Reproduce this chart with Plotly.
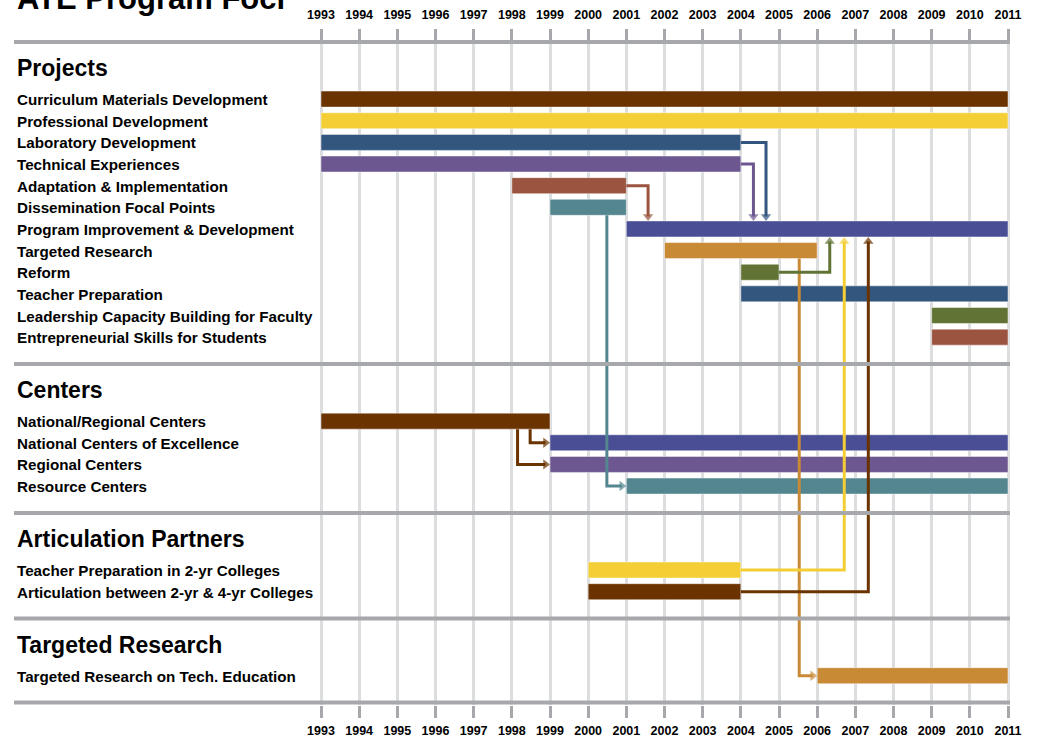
import plotly.graph_objects as go

# ---------------- data ----------------
TITLE = "ATE Program Foci"
YEARS = list(range(1993, 2012))

GROUP_NAMES = ["Projects", "Centers", "Articulation Partners", "Targeted Research"]

PROJECT_ITEMS = [
    "Curriculum Materials Development",
    "Professional Development",
    "Laboratory Development",
    "Technical Experiences",
    "Adaptation & Implementation",
    "Dissemination Focal Points",
    "Program Improvement & Development",
    "Targeted Research",
    "Reform",
    "Teacher Preparation",
    "Leadership Capacity Building for Faculty",
    "Entrepreneurial Skills for Students",
]
PROJECT_START = [1993, 1993, 1993, 1993, 1998, 1999, 2001, 2002, 2004, 2004, 2009, 2009]
PROJECT_END = [2011, 2011, 2004, 2004, 2001, 2001, 2011, 2006, 2005, 2011, 2011, 2011]

CENTER_ITEMS = [
    "National/Regional Centers",
    "National Centers of Excellence",
    "Regional Centers",
    "Resource Centers",
]
CENTER_START = [1993, 1999, 1999, 2001]
CENTER_END = [1999, 2011, 2011, 2011]

PARTNER_ITEMS = [
    "Teacher Preparation in 2-yr Colleges",
    "Articulation between 2-yr & 4-yr Colleges",
]
PARTNER_START = [2000, 2000]
PARTNER_END = [2004, 2004]

RESEARCH_ITEMS = ["Targeted Research on Tech. Education"]
RESEARCH_START = [2006]
RESEARCH_END = [2011]

# connectors: from item -> to item, elbow year, arrow direction
LINK_FROM = [
    "Laboratory Development", "Technical Experiences", "Adaptation & Implementation",
    "Dissemination Focal Points", "Targeted Research", "Reform",
    "Teacher Preparation in 2-yr Colleges", "Articulation between 2-yr & 4-yr Colleges",
    "National/Regional Centers", "National/Regional Centers",
]
LINK_TO = [
    "Program Improvement & Development", "Program Improvement & Development",
    "Program Improvement & Development", "Resource Centers",
    "Targeted Research on Tech. Education", "Program Improvement & Development",
    "Program Improvement & Development", "Program Improvement & Development",
    "National Centers of Excellence", "Regional Centers",
]
LINK_ELBOW = [2004.66, 2004.33, 2001.57, 2000.49, 2005.53, 2006.33, 2006.71, 2007.34, 1998.48, 1998.15]
LINK_KIND = ["down", "down", "down", "right", "right", "up", "up", "up", "right", "right"]

# ---------------- styles ----------------
PALETTE = {
    "brown": "#6B3300", "yellow": "#F4CE35", "blue": "#33567F", "purple": "#6D5790",
    "rust": "#9A543F", "teal": "#548690", "indigo": "#4A4E94", "orange": "#C98A36",
    "olive": "#627435",
}
PROJECT_COLORS = ["brown", "yellow", "blue", "purple", "rust", "teal", "indigo",
                  "orange", "olive", "blue", "olive", "rust"]
CENTER_COLORS = ["brown", "indigo", "purple", "teal"]
PARTNER_COLORS = ["yellow", "brown"]
RESEARCH_COLORS = ["orange"]

FONT = "Liberation Sans, Arial, sans-serif"
GRID = "#DCDDDF"
RULE = "#A7A8AB"

W, H = 1038, 739
PLOT_TOP, PLOT_BOTTOM = 42, 705
PX_PER_YEAR = (1008 - 321) / 18
X_LEFT = 1993 - 321 / PX_PER_YEAR
X_RIGHT = X_LEFT + W / PX_PER_YEAR

SEP_TO_HEAD, HEAD_TO_ROW, ROW_STEP, ROW_TO_SEP = 26.0, 31.1, 21.64, 26.9
BAR_H = 16
ARROW = 9


def paper_y(ypx):
    return (PLOT_BOTTOM - ypx) / (PLOT_BOTTOM - PLOT_TOP)


groups = [
    (GROUP_NAMES[0], PROJECT_ITEMS, PROJECT_START, PROJECT_END, PROJECT_COLORS),
    (GROUP_NAMES[1], CENTER_ITEMS, CENTER_START, CENTER_END, CENTER_COLORS),
    (GROUP_NAMES[2], PARTNER_ITEMS, PARTNER_START, PARTNER_END, PARTNER_COLORS),
    (GROUP_NAMES[3], RESEARCH_ITEMS, RESEARCH_START, RESEARCH_END, RESEARCH_COLORS),
]

heads, seps, items = [], [PLOT_TOP], {}
order = []
y = PLOT_TOP
for gname, labels, starts, ends, cols in groups:
    y += SEP_TO_HEAD
    heads.append((gname, y))
    y += HEAD_TO_ROW
    for i, (lab, s, e, c) in enumerate(zip(labels, starts, ends, cols)):
        yy = y + i * ROW_STEP
        items[lab] = dict(y=yy, s=s, e=e, c=PALETTE[c])
        order.append(lab)
    y = y + (len(labels) - 1) * ROW_STEP + ROW_TO_SEP
    seps.append(y)

fig = go.Figure()

fig.add_trace(go.Bar(
    orientation="h",
    y=[items[l]["y"] for l in order],
    base=[items[l]["s"] for l in order],
    x=[items[l]["e"] - items[l]["s"] for l in order],
    width=BAR_H,
    marker=dict(color=[items[l]["c"] for l in order],
                line=dict(color="rgba(255,255,255,0.45)", width=1)),
    hoverinfo="skip",
    xaxis="x", yaxis="y",
))

dx_arrow = (ARROW / 2) / PX_PER_YEAR
for src, dst, elbow, kind in zip(LINK_FROM, LINK_TO, LINK_ELBOW, LINK_KIND):
    a, b = items[src], items[dst]
    if kind == "down":
        xs = [a["e"], elbow, elbow]
        ys = [a["y"], a["y"], b["y"] - BAR_H / 2 - ARROW / 2]
        sym = "triangle-down"
    elif kind == "up":
        xs = [a["e"], elbow, elbow]
        ys = [a["y"], a["y"], b["y"] + BAR_H / 2 + ARROW / 2]
        sym = "triangle-up"
    else:
        xs = [elbow, elbow, b["s"] - dx_arrow]
        ys = [a["y"] + BAR_H / 2, b["y"], b["y"]]
        sym = "triangle-right"
    fig.add_trace(go.Scatter(
        x=xs, y=ys, mode="lines+markers",
        line=dict(color=a["c"], width=3),
        marker=dict(symbol=["circle", "circle", sym], size=[0, 0, ARROW],
                    color=a["c"], line=dict(width=0)),
        hoverinfo="skip", xaxis="x2", yaxis="y",
    ))

shapes = []
for sy in seps:
    shapes.append(dict(type="line", xref="paper", yref="paper",
                       x0=14 / W, x1=1010 / W, y0=paper_y(sy), y1=paper_y(sy),
                       line=dict(color=RULE, width=4), layer="above"))

ann = []
ann.append(dict(text=TITLE, xref="paper", yref="paper", x=15 / W, y=paper_y(-2),
                xanchor="left", yanchor="middle", showarrow=False,
                font=dict(family=FONT, size=31, color="black", weight="bold")))
for gname, hy in heads:
    ann.append(dict(text=gname, xref="paper", yref="paper", x=15 / W, y=paper_y(hy),
                    xanchor="left", yanchor="middle", showarrow=False,
                    font=dict(family=FONT, size=23, color="black", weight="bold")))
for lab in order:
    ann.append(dict(text=lab, xref="paper", yref="paper", x=15 / W, y=paper_y(items[lab]["y"] + 0.5),
                    xanchor="left", yanchor="middle", showarrow=False,
                    font=dict(family=FONT, size=15.2, color="black", weight="bold")))

tick_common = dict(
    range=[X_LEFT, X_RIGHT], tickmode="array", tickvals=YEARS,
    ticktext=[str(v) for v in YEARS], ticks="outside", ticklen=12, tickwidth=3,
    tickcolor=RULE, tickfont=dict(family=FONT, size=12.5, color="black", weight="bold"),
    zeroline=False, showline=False, fixedrange=True,
)

fig.update_layout(
    width=W, height=H,
    margin=dict(l=0, r=0, t=PLOT_TOP, b=H - PLOT_BOTTOM, pad=0),
    paper_bgcolor="white", plot_bgcolor="white",
    showlegend=False, barmode="overlay",
    xaxis=dict(**tick_common, side="bottom", showgrid=True, gridcolor=GRID, gridwidth=3,
               ticklabelstandoff=2),
    xaxis2=dict(**tick_common, side="top", overlaying="x", anchor="y", showgrid=False,
                ticklabelstandoff=5),
    yaxis=dict(range=[PLOT_BOTTOM, PLOT_TOP], visible=False, fixedrange=True),
    shapes=shapes, annotations=ann,
)

fig.write_html("out.html", config={"displayModeBar": False},
               post_script="document.body.style.margin='0';document.body.style.overflow='hidden';")
